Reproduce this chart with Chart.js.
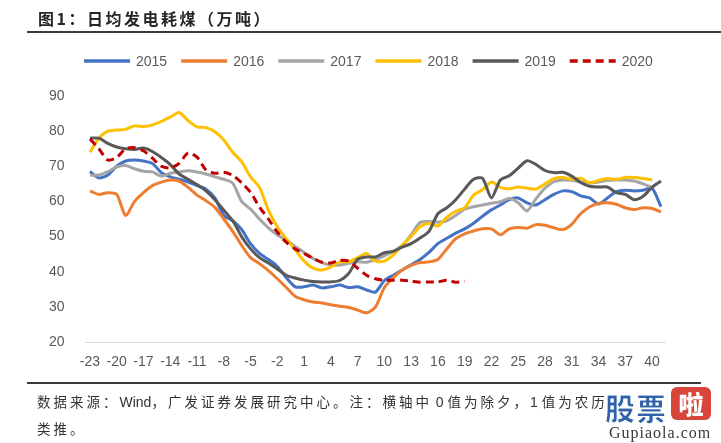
<!DOCTYPE html>
<html>
<head>
<meta charset="utf-8">
<script src="https://cdn.jsdelivr.net/npm/chart.js@4/dist/chart.umd.min.js"></script>
<style>
  html, body { margin: 0; padding: 0; background: #ffffff; }
  #wrap { position: relative; width: 721px; height: 443px; overflow: hidden; background: #fff; }
  #c { position: absolute; left: 0; top: 0; }
  .abs { position: absolute; white-space: nowrap; }
  #title { left: 38px; top: 6px; font: bold 16px "Noto Sans CJK SC", sans-serif; letter-spacing: 2.5px; color: #262626; }
  #rule1 { left: 27px; top: 31px; width: 694px; height: 2px; background: #3a3a3a; }
  #rule2 { left: 27px; top: 382px; width: 674px; height: 2px; background: #3a3a3a; }
  .foot { left: 37px; font: 13.5px "Noto Sans CJK SC", sans-serif; color: #333; }
  .cj { letter-spacing: 3px; }
  .lat { letter-spacing: 0; font-family: "Liberation Sans", Arial, sans-serif; font-size: 14px; }
  #f1 { top: 391px; }
  #f2 { top: 418px; }
  #wm1 { left: 605px; top: 385px; font: 900 30px "Noto Sans CJK SC", sans-serif; color: #2f62a8; letter-spacing: 1px;
         -webkit-text-stroke: 1px #ffffff; }
  #wm2 { left: 671px; top: 387px; width: 40px; height: 33px; border-radius: 6px; background: #d8453a;
         color: #fff; font: 900 25px "Noto Sans CJK SC", sans-serif; text-align: center; line-height: 33px; }
  #wm3 { left: 609px; top: 424px; font: 16px "Liberation Serif", "DejaVu Serif", serif; color: #3a3a3a; letter-spacing: 1px; }
</style>
</head>
<body>
<div id="wrap">
  <canvas id="c" width="721" height="443"></canvas>
  <div id="title" class="abs">图1：日均发电耗煤（万吨）</div>
  <div id="rule1" class="abs"></div>
  <div id="rule2" class="abs"></div>
  <div id="f1" class="abs foot"><span class="cj">数据来源：</span><span class="lat">Wind</span><span class="cj">，广发证券发展研究中心。注：横轴中</span><span class="lat"> 0 </span><span class="cj">值为除夕，</span><span class="lat">1 </span><span class="cj">值为农历</span></div>
  <div id="f2" class="abs foot"><span class="cj">类推。</span></div>
  <div id="wm1" class="abs">股票</div>
  <div id="wm2" class="abs">啦</div>
  <div id="wm3" class="abs">Gupiaola.com</div>
</div>
<script>
// Category axis: days relative to 除夕 (0)
const days = ["-23","-22","-21","-20","-19","-18","-17","-16","-15","-14","-13","-12","-11","-10","-9","-8","-7","-6","-5","-4","-3","-2","-1",
  "0","1","2","3","4","5","6","7","8","9","10","11","12","13","14","15","16","17","18","19","20",
  "21","22","23","24","25","26","27","28","29","30","31","32","33","34","35","36","37","38","39","40","41"];

const seriesNames = ["2015","2016","2017","2018","2019","2020"];

const y2015 = [68.5,66.7,67.5,70,71.5,71.8,71.5,70.8,68.2,67,66.3,65.5,64.5,63.5,61,56,54.5,52,48,45.2,43.5,41.5,38.3,
  35.7,35.7,36.2,35.4,35.7,36.2,35.5,35.7,34.8,34.2,37.5,39,40.5,42,43.5,45.5,48,49.5,51,52.2,53.8,
  55.8,57.6,59,60.5,61,59.6,59,60.5,62,63,62.8,61.6,61,59.3,61,62.8,63.2,63,63.2,63.8,58.5];

const y2016 = [63,62,62.5,62,56,60,62.5,64.5,65.5,66.1,65.8,64,61.8,60.2,58.3,55,51.5,47.5,44,42.3,40.3,38,35.5,
  33,32,31.4,31.1,30.6,30.2,29.8,29.1,28.3,30,35.5,38.3,40.5,41.8,42.6,42.8,43.5,46.5,49.4,50.8,51.6,
  52.2,52.2,50.5,52.2,52.6,52.4,53.4,53.2,52.5,52,53.5,56.5,58.4,59.4,59.6,59.2,58.2,57.7,58.2,58,57];

const y2017 = [67.5,67.5,68.5,69.8,70.2,69.3,68.6,68.4,67.2,68,68.4,68.7,68.4,67.8,67,66.3,65.2,60,57.8,55,52.5,50.5,49,
  47.2,45.5,43.8,42.6,41.9,41.9,42.4,42.8,42.7,43.5,44.5,45.8,47.5,50.5,54,54.3,54.1,54.5,56,57.8,58.5,
  59,59.5,59.9,60.8,59.6,57.3,60.8,63.8,65.6,66.1,66,65.5,65.2,65.5,66,66.1,66.1,65.8,65,64,null];

const y2018 = [74,78,80,80.3,80.5,81.5,81.3,81.8,82.8,84,85.3,83,81.2,81,79.8,77.5,74,71.3,67,64,57.5,52.8,49.4,
  46.2,43,41,40.5,41.3,42.8,42.8,44,45.2,43,43,44.8,47.5,50,52.8,53.8,53,55.5,57.2,58.2,61.8,
  63.3,65.5,64,63.6,64.1,63.8,63.5,65,66.5,66.8,66.3,66.6,65.3,66,66.5,66.3,66.8,66.8,66.5,66.1,null];

const y2019 = [78,78,76.5,75.5,75,74.8,75.2,74.2,72.5,70.5,67.8,66.3,64.8,63,60.5,57.5,54.5,50,46.5,44,42.5,40.8,39,
  38.2,37.6,37.2,37.1,37.1,37.5,39.5,43.5,44.2,44.2,45.4,45.8,47,48,49.6,51.5,56.5,58.2,60.5,63.5,66.3,
  66.6,61,66.1,67.3,69.5,71.6,70.5,68.8,68.2,68.3,67.2,65.4,64.3,64.1,64.1,62.5,62,60.5,61.5,64,65.8];

const y2020 = [77.8,75,71.8,72.5,75,75.3,74.4,72.3,70,69.5,70.8,73.8,72.6,69,68,68.3,67.4,65.3,62.6,58.4,55,51.3,48.4,
  46.5,45.2,43.8,42.7,42.5,43.2,43,41,39,38,37.6,37.6,37.6,37.3,37,37.1,37.1,37.6,37,37.3,null,
  null,null,null,null,null,null,null,null,null,null,null,null,null,null,null,null,null,null,null,null,null];

const yTicks = [20,30,40,50,60,70,80,90];

const colors = ["#4472C4","#ED7D31","#A5A5A5","#FFC000","#595959","#C00000"];
const values = [y2015,y2016,y2017,y2018,y2019,y2020];

const datasets = seriesNames.map((name, i) => ({
  label: name,
  data: values[i],
  borderColor: colors[i],
  backgroundColor: colors[i],
  borderWidth: 3,
  borderDash: name === "2020" ? [8,5] : [],
  pointRadius: 0,
  tension: 0.25,
  fill: false,
  spanGaps: false,
  order: seriesNames.length - i
}));

const refLegend = {
  id: 'refLegend',
  afterDraw(chart) {
    const c = chart.ctx;
    c.save();
    c.font = '14px "Liberation Sans", Arial, sans-serif';
    c.textBaseline = 'middle';
    let x = 84; const y = 61;
    chart.data.datasets.forEach(ds => {
      c.beginPath();
      c.setLineDash(ds.borderDash || []);
      c.lineWidth = 3.5;
      c.lineCap = 'butt';
      c.strokeStyle = ds.borderColor;
      c.moveTo(x, y); c.lineTo(x + 46, y);
      c.stroke();
      c.setLineDash([]);
      c.fillStyle = '#595959';
      c.fillText(ds.label, x + 52, y + 1);
      x += 46 + 6 + c.measureText(ds.label).width + 14;
    });
    c.restore();
  }
};

const tickFont = { family: '"Liberation Sans", Arial, sans-serif', size: 14 };

new Chart(document.getElementById('c'), {
  type: 'line',
  data: { labels: days, datasets: datasets },
  plugins: [refLegend],
  options: {
    responsive: false,
    animation: false,
    devicePixelRatio: 1,
    layout: { padding: { top: 96, left: 30, right: 55.6, bottom: 61 } },
    plugins: { legend: { display: false }, tooltip: { enabled: false }, title: { display: false } },
    scales: {
      x: {
        type: 'category',
        offset: true,
        grid: { display: false, drawTicks: false },
        border: { display: true, color: '#D9D9D9', width: 1 },
        ticks: {
          autoSkip: false, maxRotation: 0, minRotation: 0, padding: 12,
          color: '#595959', font: tickFont,
          callback: function(v, i) { return i % 3 === 0 ? this.getLabelForValue(v) : ''; }
        },
        afterFit: s => { s.height = 40; }
      },
      y: {
        min: 20, max: 90,
        grid: { display: false, drawTicks: false },
        border: { display: false },
        afterBuildTicks: s => { s.ticks = yTicks.map(v => ({ value: v })); },
        ticks: { padding: 21, color: '#595959', font: tickFont },
        afterFit: s => { s.width = 55.5; }
      }
    }
  }
});
</script>
</body>
</html>
